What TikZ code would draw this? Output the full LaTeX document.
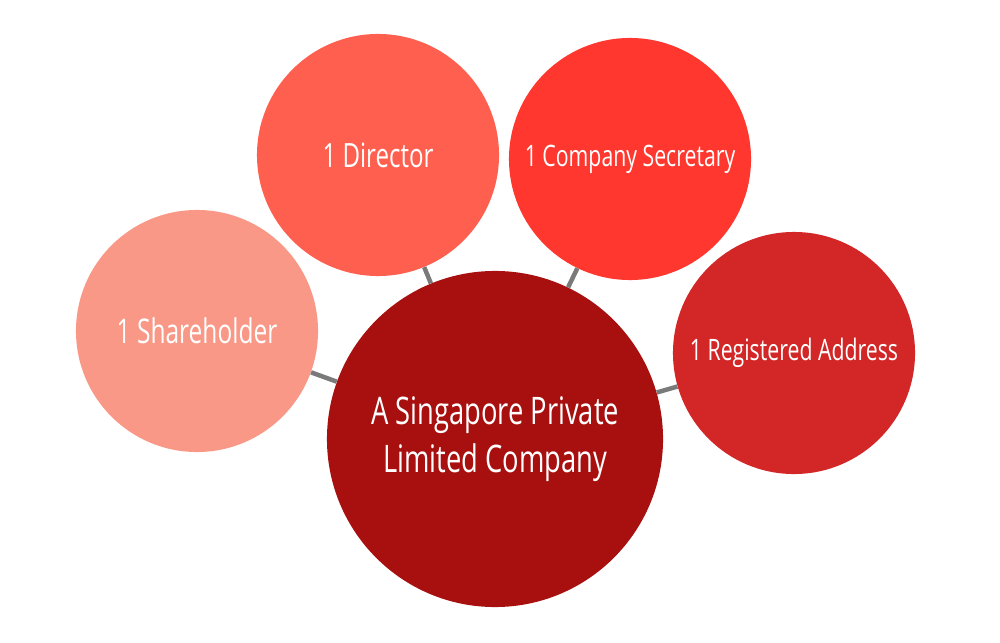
\documentclass[tikz,border=0pt]{standalone}
\usepackage{fontspec}
\newfontfamily\labelfont{Open Sans}[FakeStretch=0.72]
\definecolor{companyred}{HTML}{A81010}
\definecolor{sharered}{HTML}{F99886}
\definecolor{directorred}{HTML}{FF5F4E}
\definecolor{secretaryred}{HTML}{FF372E}
\definecolor{addressred}{HTML}{D22627}
\definecolor{linkgray}{HTML}{7A7A7A}

\begin{document}
\begin{tikzpicture}[x=0.025cm,y=-0.025cm,
		bubble/.style={circle,inner sep=0pt,minimum size=6.05cm,text=white,align=center,font=\labelfont\fontsize{21}{26}\selectfont},
		link/.style={draw=linkgray,line width=3.2pt}]
		\useasboundingbox (0,0) rectangle (1000,643);
		\node[bubble,fill=companyred,minimum size=8.4cm,font=\labelfont\fontsize{27}{34}\selectfont] (company) at (495,439) {A Singapore Private\\Limited Company};
		\node[bubble,fill=sharered,font=\labelfont\fontsize{24.2}{28}\selectfont] (share) at (197,331) {1 Shareholder};
		\node[bubble,fill=directorred,font=\labelfont\fontsize{23.8}{28}\selectfont] (director) at (378,155) {1 Director};
		\node[bubble,fill=secretaryred] (secretary) at (630,159) {1 Company Secretary};
		\node[bubble,fill=addressred] (address) at (794,353) {1 Registered Address};
		\draw[link] (company) -- (share);
		\draw[link] (company) -- (director);
		\draw[link] (company) -- (secretary);
		\draw[link] (company) -- (address);
	\end{tikzpicture}
\end{document}
